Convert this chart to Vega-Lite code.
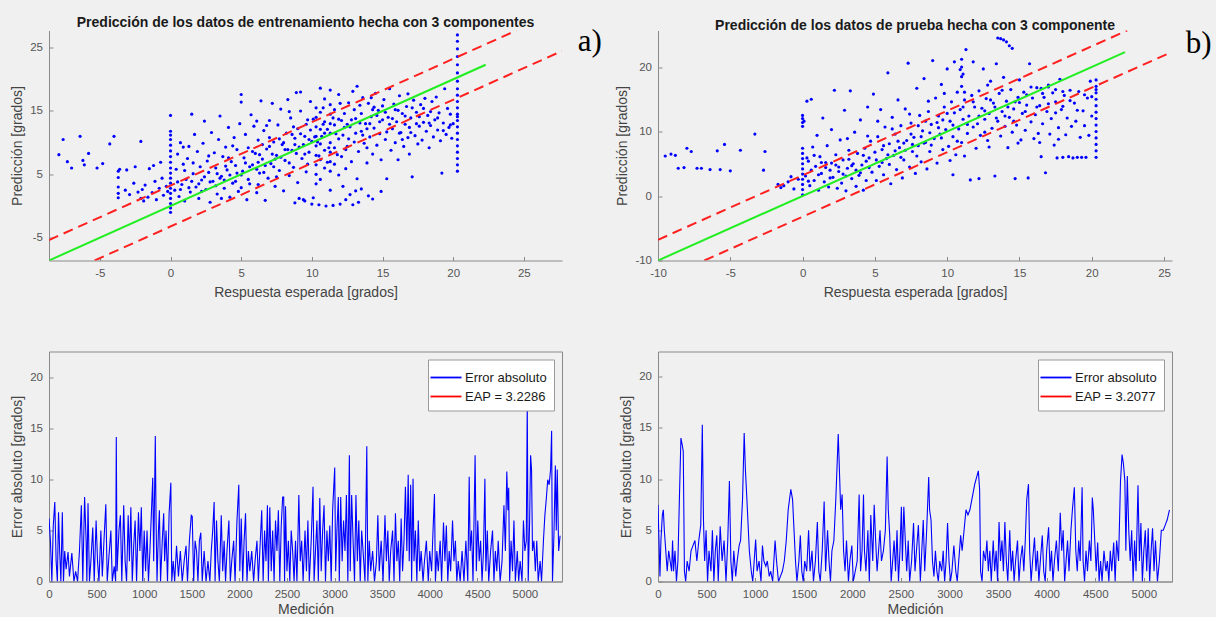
{
"$schema":"https://vega.github.io/schema/vega-lite/v6.json",
"background":"#f0f0f0",
"padding":{"left":10,"top":15.5,"right":4,"bottom":0},
"config":{
 "font":"Liberation Sans",
 "view":{"stroke":null},
 "axis":{"labelFont":"Liberation Sans","labelFontSize":11.5,"labelColor":"#555555","titleFont":"Liberation Sans","titleFontSize":14,"titleFontWeight":"normal","titleColor":"#444444","domainColor":"#8a8a8a","tickColor":"#8a8a8a","tickSize":-4,"grid":false,"labelFlush":false,"labelOverlap":false,"labelExpr":"replace(datum.label, '−', '-')"},
 "axisX":{"labelPadding":11,"titlePadding":6},
 "axisY":{"labelPadding":10.5,"titlePadding":5},
 "title":{"font":"Liberation Sans","fontSize":14,"fontWeight":"bold","color":"#1a1a1a","offset":-4.5,"anchor":"middle"},
 "legend":{"orient":"top-right","offset":8,"fillColor":"#ffffff","strokeColor":"#9a9a9a","padding":7,"symbolType":"M-1.55,0H1.55","symbolSize":400,"symbolStrokeWidth":1.8,"labelFont":"Liberation Sans","labelFontSize":13,"labelColor":"#1a1a1a","rowPadding":1,"labelOffset":8}
},
"datasets":{
"scA":[
{"x":-7.9,"y":8.1},{"x":-7.6,"y":10.5},{"x":-7.3,"y":7},{"x":-7,"y":6},{"x":-6.4,"y":11},{"x":-6.2,"y":7.2},{"x":-6.1,"y":6.5},{"x":-5.8,"y":8.3},{"x":-5.2,"y":6},{"x":-4.8,"y":6.7},{"x":-4.3,"y":9.8},{"x":-4,"y":11},{"x":-2.1,"y":10.2},
{"x":-3.7,"y":1.3},{"x":-3.7,"y":2},{"x":-3.7,"y":3},{"x":-3.7,"y":4.5},{"x":-3.7,"y":5.5},{"x":-3.6,"y":5.8},
{"x":-3.2,"y":2.5},{"x":-2.9,"y":1.8},{"x":-2.6,"y":3.6},{"x":-2.3,"y":2.2},{"x":-2.1,"y":1.2},{"x":-2,"y":2.6},{"x":-1.8,"y":3.3},{"x":-1.6,"y":1.4},{"x":-1.5,"y":5.9},{"x":-1.3,"y":2.1},{"x":-1.1,"y":3.9},{"x":-1,"y":1},{"x":-0.8,"y":2.8},{"x":-0.7,"y":6.9},{"x":-0.6,"y":4.4},{"x":-0.5,"y":1.7},{"x":-0.3,"y":3.1},{"x":-0.2,"y":2.3},{"x":-1.9,"y":0.8},{"x":-2.5,"y":6.2},{"x":-3.1,"y":5.7},{"x":-1.2,"y":6.4},
{"x":0,"y":-1},{"x":0,"y":-0.3},{"x":0,"y":0.4},{"x":0,"y":1.2},{"x":0,"y":2},{"x":0,"y":2.8},{"x":0,"y":3.6},{"x":0,"y":4.4},{"x":0,"y":5.2},{"x":0,"y":6},{"x":0,"y":6.9},{"x":0,"y":7.8},{"x":0,"y":8.7},{"x":0,"y":9.6},{"x":0,"y":10.5},{"x":0,"y":11.2},{"x":0,"y":11.8},{"x":0,"y":14.3},
{"x":0.3,"y":2.5},{"x":0.4,"y":5.8},{"x":0.5,"y":8.2},{"x":0.6,"y":1.5},{"x":0.7,"y":10},{"x":0.8,"y":3.4},{"x":0.9,"y":6.6},{"x":1,"y":0.8},{"x":1.1,"y":4.2},{"x":1.2,"y":7.5},{"x":1.3,"y":9.4},{"x":1.4,"y":2.2},{"x":1.5,"y":14.5},{"x":1.6,"y":5.1},{"x":1.7,"y":11.3},{"x":1.8,"y":3},{"x":1.9,"y":8.6},{"x":2,"y":1.2},{"x":2.1,"y":6.2},{"x":2.2,"y":4.1},{"x":2.3,"y":9.9},{"x":2.4,"y":13.4},{"x":2.5,"y":2.6},{"x":2.6,"y":7.1},{"x":2.7,"y":5.3},{"x":2.8,"y":0.6},{"x":2.9,"y":11.6},{"x":3,"y":3.9},{"x":3.1,"y":8.4},{"x":3.2,"y":6},{"x":3.3,"y":1.9},{"x":3.4,"y":10.5},{"x":3.5,"y":14.2},{"x":3.6,"y":4.7},{"x":3.7,"y":7.8},{"x":3.8,"y":2.8},{"x":3.9,"y":9.3},{"x":4,"y":5.7},{"x":4.1,"y":12.4},{"x":4.2,"y":1.4},{"x":4.3,"y":7},{"x":4.4,"y":3.6},{"x":4.5,"y":10.8},{"x":4.6,"y":6.4},{"x":4.7,"y":8.9},{"x":4.8,"y":2.3},{"x":4.9,"y":13},{"x":5,"y":17.6},{"x":5,"y":16.4},{"x":5,"y":4.9},{"x":0.9,"y":9.3},{"x":1.6,"y":6.8},{"x":2.4,"y":4.6},{"x":3.2,"y":3.2},{"x":3.9,"y":6.3},{"x":4.4,"y":9.5},
{"x":5.2,"y":7.6},{"x":5.3,"y":11.3},{"x":5.4,"y":1},{"x":5.5,"y":9.2},{"x":5.6,"y":3.5},{"x":5.7,"y":14.4},{"x":5.8,"y":6.5},{"x":5.9,"y":12.6},{"x":6,"y":8.3},{"x":6.1,"y":2.1},{"x":6.2,"y":10.4},{"x":6.3,"y":5.2},{"x":6.4,"y":16.6},{"x":6.5,"y":7.4},{"x":6.6,"y":11.9},{"x":6.7,"y":0.9},{"x":6.8,"y":9},{"x":6.9,"y":4.4},{"x":7,"y":13.5},{"x":7.1,"y":6.7},{"x":7.2,"y":16.2},{"x":7.3,"y":10.1},{"x":7.4,"y":3.1},{"x":7.5,"y":8},{"x":7.6,"y":12.8},{"x":7.7,"y":5.6},{"x":7.8,"y":15.3},{"x":7.9,"y":9.7},{"x":8,"y":2.4},{"x":8.1,"y":7.2},{"x":8.2,"y":11.5},{"x":8.3,"y":16.8},{"x":8.4,"y":4.8},{"x":8.5,"y":13.9},{"x":8.6,"y":8.8},{"x":8.7,"y":6.1},{"x":8.8,"y":10.7},{"x":8.9,"y":17.9},{"x":9,"y":3.7},{"x":9,"y":12.2},{"x":9.1,"y":9.3},{"x":9.2,"y":15},{"x":9.3,"y":7.5},{"x":9.4,"y":1},{"x":9.5,"y":11},{"x":9.6,"y":5.4},{"x":9.7,"y":13.6},{"x":9.8,"y":8.5},{"x":9.9,"y":16.5},{"x":10,"y":0.3},{"x":10,"y":10.2},{"x":9.2,"y":18},{"x":6.1,"y":5.8},{"x":7.4,"y":7.4},{"x":8.6,"y":11.3},{"x":5.5,"y":4.2},{"x":6.8,"y":12.7},
{"x":10.3,"y":3.5},{"x":10.3,"y":5},{"x":10.3,"y":6.5},{"x":10.3,"y":8},{"x":10.3,"y":9.5},{"x":10.3,"y":11},{"x":10.3,"y":12.5},{"x":10.3,"y":14},{"x":10.3,"y":15.5},{"x":10.6,"y":4.2},{"x":10.6,"y":7.3},{"x":10.6,"y":9.8},{"x":10.6,"y":12.1},{"x":10.6,"y":14.8},{"x":10.6,"y":18.6},{"x":10.9,"y":6},{"x":10.9,"y":8.8},{"x":10.9,"y":11.5},{"x":10.9,"y":13.3},{"x":10.9,"y":16.9},{"x":11.3,"y":2.5},{"x":11.3,"y":5.5},{"x":11.3,"y":7},{"x":11.3,"y":8.5},{"x":11.3,"y":10},{"x":11.3,"y":11.5},{"x":11.3,"y":13},{"x":11.3,"y":14.5},{"x":11.3,"y":16},{"x":11.3,"y":18.3},{"x":11.6,"y":6.6},{"x":11.6,"y":9.2},{"x":11.6,"y":12.8},{"x":11.6,"y":15.2},{"x":11.9,"y":4.9},{"x":11.9,"y":10.6},{"x":11.9,"y":13.7},{"x":11.9,"y":17.6},{"x":10.1,"y":1.3},{"x":10.5,"y":0.2},{"x":11,"y":0},{"x":11.5,"y":0.1},{"x":12,"y":0.3},{"x":12.4,"y":1},{"x":12.7,"y":1.8},{"x":13.1,"y":2.4},{"x":13.5,"y":2.7},{"x":14,"y":1.6},{"x":14.3,"y":1.1},{"x":9.5,"y":0.8},{"x":9.1,"y":1.2},{"x":8.8,"y":0.5},{"x":13.3,"y":0.6},{"x":12.9,"y":0.2},
{"x":12.1,"y":7.8},{"x":12.2,"y":11.2},{"x":12.3,"y":14.6},{"x":12.4,"y":5.9},{"x":12.5,"y":9.4},{"x":12.6,"y":16.3},{"x":12.7,"y":12.5},{"x":12.8,"y":7},{"x":12.9,"y":18.1},{"x":13,"y":10.1},{"x":13.1,"y":13.8},{"x":13.2,"y":4.3},{"x":13.3,"y":8.6},{"x":13.4,"y":15.9},{"x":13.5,"y":11.8},{"x":13.6,"y":17.1},{"x":13.7,"y":9.9},{"x":13.8,"y":13},{"x":13.9,"y":6.8},{"x":14,"y":16.2},{"x":14.1,"y":10.9},{"x":14.2,"y":14.1},{"x":14.3,"y":8.2},{"x":14.4,"y":12.3},{"x":14.5,"y":17.8},{"x":14.6,"y":9.6},{"x":14.7,"y":15.1},{"x":14.8,"y":11.4},{"x":14.9,"y":7.3},{"x":15,"y":13.6},{"x":12.5,"y":12.9},{"x":13,"y":15.2},{"x":13.6,"y":11.2},{"x":14.1,"y":13},{"x":14.6,"y":14.3},{"x":13.2,"y":18.9},{"x":14.9,"y":2.3},{"x":12.2,"y":3.1},
{"x":15.1,"y":16.8},{"x":15.2,"y":10.5},{"x":15.3,"y":4.3},{"x":15.4,"y":14},{"x":15.5,"y":18.5},{"x":15.6,"y":8.8},{"x":15.7,"y":12.2},{"x":15.8,"y":16.1},{"x":15.9,"y":10},{"x":16,"y":13.3},{"x":16.1,"y":7.3},{"x":16.2,"y":17.4},{"x":16.3,"y":11.6},{"x":16.4,"y":14.6},{"x":16.5,"y":9.4},{"x":16.6,"y":12.9},{"x":16.7,"y":15.7},{"x":16.8,"y":10.8},{"x":16.9,"y":8.2},{"x":17,"y":13.9},{"x":17.1,"y":4.6},{"x":17.2,"y":16.7},{"x":17.3,"y":11.1},{"x":17.4,"y":14.8},{"x":17.5,"y":9.8},{"x":17.6,"y":12.6},{"x":17.7,"y":16},{"x":17.8,"y":10.4},{"x":17.9,"y":13.2},{"x":18,"y":17},{"x":18.1,"y":11.8},{"x":18.2,"y":14.3},{"x":18.3,"y":9.2},{"x":18.4,"y":12.7},{"x":18.5,"y":16.5},{"x":18.6,"y":10.9},{"x":18.7,"y":13.6},{"x":18.8,"y":17.2},{"x":18.9,"y":12},{"x":19,"y":14.7},{"x":19.1,"y":10.3},{"x":19.2,"y":5.2},{"x":19.3,"y":13.1},{"x":19.4,"y":18.5},{"x":19.5,"y":11.3},{"x":19.6,"y":15.4},{"x":19.7,"y":12.4},{"x":19.8,"y":14.5},{"x":19.9,"y":10.7},{"x":20,"y":13},{"x":15.5,"y":12.9},{"x":16.2,"y":11.5},{"x":16.9,"y":12.4},{"x":17.6,"y":14.1},{"x":18.3,"y":13.1},
{"x":20.3,"y":5.5},{"x":20.3,"y":6.5},{"x":20.3,"y":7.5},{"x":20.3,"y":8.5},{"x":20.3,"y":9.5},{"x":20.3,"y":10.5},{"x":20.3,"y":11.5},{"x":20.3,"y":12.5},{"x":20.3,"y":13.5},{"x":20.3,"y":14.5},{"x":20.3,"y":15.5},{"x":20.3,"y":16.5},{"x":20.3,"y":17.5},{"x":20.3,"y":18.5},{"x":20.3,"y":19.7},{"x":20.3,"y":21},{"x":20.3,"y":22.3},{"x":20.3,"y":23.6},{"x":20.3,"y":24.8},{"x":20.3,"y":26},{"x":20.3,"y":27},
{"x":5.1,"y":5.5},{"x":5.6,"y":6.2},{"x":6.2,"y":6.9},{"x":6.7,"y":6.4},{"x":7.2,"y":8.2},{"x":7.8,"y":7.7},{"x":8.3,"y":8.9},{"x":8.9,"y":8.3},{"x":9.4,"y":9.7},{"x":9.8,"y":10.5},{"x":10.2,"y":10.9},{"x":10.7,"y":11},{"x":11.1,"y":12.1},{"x":11.7,"y":11.4},{"x":12.3,"y":12.4},{"x":3.5,"y":4.4},{"x":4.2,"y":4.9},{"x":4.7,"y":5.2},{"x":2.8,"y":3.8},{"x":2,"y":3.5},{"x":1.3,"y":2.9},{"x":0.7,"y":2.6},{"x":6.5,"y":9.7},{"x":7,"y":10.8},{"x":8,"y":10},{"x":8.7,"y":12.5},{"x":9.6,"y":12.9},{"x":10.1,"y":13.7},{"x":12.8,"y":13.6},{"x":13.4,"y":13.1},{"x":14.4,"y":15.6},{"x":15,"y":15.8},{"x":15.9,"y":15.2},{"x":17.1,"y":15.5},
{"x":0.5,"y":3.8},{"x":1,"y":5.6},{"x":1.5,"y":3.9},{"x":2.2,"y":2.3},{"x":2.7,"y":7.9},{"x":3.3,"y":5.1},{"x":3.8,"y":4.1},{"x":4.1,"y":7.6},{"x":4.6,"y":3.9},{"x":5.3,"y":6.8},{"x":5.8,"y":8.6},{"x":6.3,"y":8.1},{"x":6.6,"y":5.3},{"x":7,"y":9.4},{"x":7.3,"y":6.2},{"x":7.7,"y":10.6},{"x":8.1,"y":8.9},{"x":8.4,"y":6.8},{"x":8.8,"y":9.7},{"x":9.2,"y":11.4},{"x":9.5,"y":8.2},{"x":9.9,"y":12},{"x":10.4,"y":10.1},{"x":10.8,"y":12.9},{"x":11.2,"y":9.2},{"x":11.5,"y":13.9},{"x":11.8,"y":8.1},{"x":12.1,"y":13.5},{"x":12.6,"y":10.6},{"x":13.1,"y":11.5},{"x":13.5,"y":14.6},{"x":13.9,"y":12.2},{"x":14.3,"y":15.2},{"x":14.8,"y":13.3},{"x":15.2,"y":14.8},{"x":15.7,"y":13.8},{"x":16.1,"y":15.1},{"x":16.6,"y":14.2},{"x":17,"y":11.6},{"x":17.4,"y":13},{"x":17.9,"y":15.4},{"x":18.4,"y":14.9},{"x":18.9,"y":13.9},{"x":19.3,"y":11.9},{"x":19.8,"y":12.8},{"x":20.3,"y":14.1},{"x":9.7,"y":6.6},{"x":10.5,"y":7.9},{"x":11.1,"y":6.9},{"x":12.4,"y":8.9},{"x":13.9,"y":9.2},{"x":15.3,"y":11.7},{"x":16.4,"y":10.5},{"x":7.5,"y":4.6},{"x":6.2,"y":3.4},{"x":5,"y":2.9},{"x":3.6,"y":1.2},{"x":10.8,"y":15.5},{"x":12,"y":16.2},{"x":14.2,"y":17.1},{"x":16.8,"y":17.7},{"x":8.4,"y":14.9},{"x":6.1,"y":13.4}
],
"scB":[
{"x":-9.5,"y":6.2},{"x":-9.1,"y":6.5},{"x":-8.8,"y":6.3},{"x":-8.6,"y":4.3},{"x":-8.2,"y":4.4},{"x":-8,"y":7.4},{"x":-7.7,"y":6.9},{"x":-7.3,"y":4.3},{"x":-7,"y":4.3},{"x":-6.4,"y":4.1},{"x":-5.9,"y":7},{"x":-5.7,"y":4.1},{"x":-5.4,"y":8},{"x":-5,"y":3.9},{"x":-4.3,"y":7.1},{"x":-3.3,"y":9.6},{"x":-2.6,"y":6.9},{"x":-2.7,"y":4},{"x":-1.7,"y":1.8},{"x":-1.5,"y":1.3},{"x":-1.3,"y":1.6},{"x":-1,"y":2.2},{"x":-0.8,"y":3},{"x":-0.6,"y":1.1},{"x":-0.3,"y":2.6},
{"x":0,"y":0.2},{"x":0,"y":1},{"x":0,"y":1.8},{"x":0,"y":2.6},{"x":0,"y":3.4},{"x":0,"y":4.2},{"x":0,"y":5},{"x":0,"y":5.8},{"x":0,"y":6.6},{"x":0,"y":7.4},{"x":0,"y":10.8},{"x":0,"y":11.4},{"x":0,"y":12},{"x":0,"y":12.5},{"x":0.1,"y":11.6},
{"x":0.2,"y":3.1},{"x":0.3,"y":14.7},{"x":0.4,"y":5.4},{"x":0.5,"y":1.6},{"x":0.6,"y":15},{"x":0.7,"y":7.6},{"x":0.8,"y":2.4},{"x":0.9,"y":4.6},{"x":1,"y":9.4},{"x":1.1,"y":0.9},{"x":1.2,"y":6.1},{"x":1.3,"y":3.5},{"x":1.4,"y":12.1},{"x":1.5,"y":2.2},{"x":1.6,"y":5.2},{"x":1.7,"y":7.8},{"x":1.8,"y":1.4},{"x":1.9,"y":4},{"x":2,"y":10.3},{"x":2.1,"y":2.9},{"x":2.2,"y":16.4},{"x":2.3,"y":6.4},{"x":2.4,"y":1.2},{"x":2.5,"y":3.8},{"x":2.6,"y":8.7},{"x":2.7,"y":2},{"x":2.8,"y":5.6},{"x":2.9,"y":13.3},{"x":3,"y":0.8},{"x":3.1,"y":4.3},{"x":3.2,"y":7.1},{"x":3.3,"y":16.3},{"x":3.4,"y":2.7},{"x":3.5,"y":5},{"x":3.6,"y":9.9},{"x":3.7,"y":1.5},{"x":3.8,"y":6.6},{"x":3.9,"y":3.2},{"x":4,"y":11.8},{"x":4.1,"y":4.8},{"x":4.2,"y":0.9},{"x":4.3,"y":7.4},{"x":4.4,"y":2.4},{"x":4.5,"y":13.8},{"x":4.6,"y":5.9},{"x":4.7,"y":8.5},{"x":4.8,"y":3.7},{"x":4.9,"y":15.8},{"x":5,"y":6.8},{"x":1.1,"y":3.3},{"x":1.6,"y":4.4},{"x":2,"y":5.1},{"x":2.5,"y":4.5},{"x":3,"y":3.1},{"x":3.4,"y":4.7},{"x":4,"y":3.6},{"x":4.4,"y":5.4},{"x":0.6,"y":4},{"x":0.4,"y":2.3},
{"x":5.1,"y":2.4},{"x":5.2,"y":9.2},{"x":5.3,"y":4.6},{"x":5.4,"y":13.4},{"x":5.5,"y":7.2},{"x":5.6,"y":3.3},{"x":5.7,"y":10.7},{"x":5.8,"y":5.8},{"x":5.9,"y":19.1},{"x":6,"y":8.1},{"x":6.1,"y":1.9},{"x":6.2,"y":12.2},{"x":6.3,"y":6.3},{"x":6.4,"y":9.6},{"x":6.5,"y":4.1},{"x":6.6,"y":14.9},{"x":6.7,"y":7.5},{"x":6.8,"y":10.9},{"x":6.9,"y":2.8},{"x":7,"y":5.6},{"x":7.1,"y":13.5},{"x":7.2,"y":8.6},{"x":7.3,"y":20.6},{"x":7.4,"y":4.5},{"x":7.5,"y":11.3},{"x":7.6,"y":6.9},{"x":7.7,"y":9.1},{"x":7.8,"y":3.5},{"x":7.9,"y":16.7},{"x":8,"y":7.8},{"x":8.1,"y":12.5},{"x":8.2,"y":5.3},{"x":8.3,"y":10.1},{"x":8.4,"y":18.2},{"x":8.5,"y":8.3},{"x":8.6,"y":4.2},{"x":8.7,"y":13.1},{"x":8.8,"y":6.9},{"x":8.9,"y":11.1},{"x":9,"y":21},{"x":9.1,"y":8.9},{"x":9.2,"y":15.2},{"x":9.3,"y":5.1},{"x":9.4,"y":12.4},{"x":9.5,"y":9.6},{"x":9.6,"y":17.3},{"x":9.7,"y":7.2},{"x":9.8,"y":13.8},{"x":9.9,"y":10.3},{"x":10,"y":19.7},{"x":5.9,"y":6.4},{"x":6.4,"y":7},{"x":7,"y":8.2},{"x":7.6,"y":8},{"x":8.2,"y":9.2},{"x":8.8,"y":9.8},{"x":9.4,"y":10.6},{"x":6.8,"y":6},{"x":7.9,"y":6.2},{"x":5.5,"y":5.2},{"x":8.5,"y":11.6},{"x":9.7,"y":11.8},
{"x":10.1,"y":7.7},{"x":10.2,"y":11.6},{"x":10.3,"y":14.6},{"x":10.4,"y":9.2},{"x":10.5,"y":12.9},{"x":10.6,"y":6.4},{"x":10.7,"y":16.1},{"x":10.8,"y":10.4},{"x":10.9,"y":13.4},{"x":11,"y":8.3},{"x":11,"y":17},{"x":11,"y":18.5},{"x":11,"y":20},{"x":11,"y":21.2},{"x":11.1,"y":11.9},{"x":11.2,"y":14.9},{"x":11.3,"y":22.7},{"x":11.4,"y":9.7},{"x":11.5,"y":12.4},{"x":11.6,"y":2.5},{"x":11.7,"y":15.6},{"x":11.8,"y":10.7},{"x":11.9,"y":13.8},{"x":12,"y":7.4},{"x":10.4,"y":3.3},{"x":11.2,"y":6.2},{"x":11.8,"y":20.8},{"x":10.5,"y":20.8},{"x":12.2,"y":2.7},
{"x":12.1,"y":11.2},{"x":12.2,"y":16.3},{"x":12.3,"y":9.4},{"x":12.4,"y":13.6},{"x":12.5,"y":19.7},{"x":12.6,"y":11.9},{"x":12.7,"y":15.1},{"x":12.8,"y":8.6},{"x":12.9,"y":12.8},{"x":13,"y":17.8},{"x":13.1,"y":10.5},{"x":13.2,"y":14.4},{"x":13.3,"y":3.1},{"x":13.4,"y":20.5},{"x":13.5,"y":24.5},{"x":13.7,"y":24.4},{"x":13.9,"y":24.2},{"x":14.1,"y":23.9},{"x":14.3,"y":23.3},{"x":14.5,"y":22.9},{"x":13.5,"y":11.6},{"x":13.6,"y":15.9},{"x":13.7,"y":9.3},{"x":13.8,"y":13.1},{"x":13.9,"y":18.4},{"x":14,"y":10.8},{"x":14.1,"y":14.7},{"x":14.2,"y":7.5},{"x":14.3,"y":12.2},{"x":14.4,"y":16.5},{"x":14.5,"y":9.9},{"x":14.6,"y":13.5},{"x":14.7,"y":2.7},{"x":14.8,"y":11},{"x":14.9,"y":15.3},{"x":15,"y":18},{"x":15.1,"y":8.7},{"x":15.2,"y":12.8},{"x":15.3,"y":16.1},{"x":15.4,"y":10.2},{"x":15.5,"y":14.1},{"x":15.6,"y":2.8},{"x":15.7,"y":20.5},{"x":15.8,"y":11.5},{"x":15.9,"y":15.2},{"x":16,"y":8.9},{"x":12.6,"y":13.2},{"x":13.3,"y":13.8},{"x":14,"y":12.4},{"x":14.7,"y":14.6},{"x":15.5,"y":15.7},
{"x":16.1,"y":12.6},{"x":16.2,"y":16.8},{"x":16.3,"y":9.7},{"x":16.4,"y":14},{"x":16.5,"y":6.1},{"x":16.6,"y":11.2},{"x":16.7,"y":15.3},{"x":16.8,"y":3.6},{"x":16.9,"y":13.1},{"x":17,"y":17.2},{"x":17.1,"y":9.6},{"x":17.2,"y":12},{"x":17.3,"y":16},{"x":17.4,"y":7.9},{"x":17.5,"y":14.6},{"x":17.6,"y":5.9},{"x":17.7,"y":10.6},{"x":17.8,"y":18.1},{"x":17.9,"y":13.4},{"x":18,"y":6},{"x":18.1,"y":15.6},{"x":18.2,"y":9.5},{"x":18.3,"y":12.1},{"x":18.4,"y":6.1},{"x":18.5,"y":16.4},{"x":18.6,"y":10.8},{"x":18.7,"y":5.9},{"x":18.8,"y":14.4},{"x":18.9,"y":11.6},{"x":19,"y":6},{"x":19.1,"y":16.2},{"x":19.2,"y":9.1},{"x":19.3,"y":6},{"x":19.4,"y":13.2},{"x":19.5,"y":10.9},{"x":19.6,"y":6},{"x":19.7,"y":15.2},{"x":19.8,"y":9.4},{"x":19.9,"y":17.8},{"x":20,"y":12.4},{"x":17,"y":16.9},{"x":17.5,"y":16.5},{"x":18,"y":16.2},{"x":16.5,"y":16.7},
{"x":20.3,"y":6},{"x":20.3,"y":7},{"x":20.3,"y":8},{"x":20.3,"y":9},{"x":20.3,"y":10},{"x":20.3,"y":11},{"x":20.3,"y":12},{"x":20.3,"y":13},{"x":20.3,"y":14},{"x":20.3,"y":15},{"x":20.3,"y":16},{"x":20.3,"y":17},{"x":20.3,"y":18},
{"x":0.3,"y":5.9},{"x":0.8,"y":6.3},{"x":1.3,"y":5.2},{"x":1.9,"y":2.8},{"x":2.3,"y":4.8},{"x":2.8,"y":3.4},{"x":3.2,"y":5.7},{"x":3.7,"y":4},{"x":4.2,"y":6.3},{"x":4.6,"y":4.4},{"x":5.1,"y":5.6},{"x":5.6,"y":7.8},{"x":6,"y":4.9},{"x":6.6,"y":8.5},{"x":7.1,"y":7.1},{"x":7.5,"y":9.6},{"x":8,"y":10.9},{"x":8.4,"y":8.2},{"x":8.9,"y":7.9},{"x":9.3,"y":11.4},{"x":9.6,"y":9},{"x":10,"y":12.8},{"x":10.4,"y":11},{"x":10.7,"y":8.5},{"x":11.1,"y":13.8},{"x":11.4,"y":11.1},{"x":11.8,"y":14.6},{"x":12.2,"y":12.4},{"x":12.6,"y":9.9},{"x":13,"y":14.9},{"x":13.4,"y":12.1},{"x":13.8,"y":16.4},{"x":14.2,"y":13.8},{"x":14.6,"y":11.6},{"x":15,"y":14.5},{"x":15.4,"y":13.1},{"x":15.8,"y":16.9},{"x":16.2,"y":13.8},{"x":16.6,"y":15.9},{"x":17,"y":14.3},{"x":17.5,"y":12.9},{"x":18,"y":13.9},{"x":18.5,"y":14.8},{"x":19,"y":13.3},{"x":19.5,"y":15.7},{"x":20,"y":15.4},{"x":20.3,"y":16.5},{"x":11.2,"y":16.1},{"x":11.1,"y":18.9},{"x":10.9,"y":19.6},{"x":12.8,"y":17.2},{"x":9.8,"y":15.9},{"x":8.7,"y":14.7},{"x":7.4,"y":12.7},{"x":6.2,"y":10.4},{"x":5.2,"y":11.6},{"x":4.5,"y":9.3},{"x":3.1,"y":8.9},{"x":10.2,"y":5.5},{"x":12.9,"y":7.6},{"x":14.9,"y":8.2},{"x":16.4,"y":8.3},{"x":17.7,"y":8.8}
],
"fitA":[{"x":-8.6,"y":-8.6},{"x":22.3,"y":22.3}],
"bandA":[{"s":"up","x":-8.6,"y":-5.37},{"s":"up","x":24.47,"y":27.7},{"s":"lo","x":-5.37,"y":-8.6},{"s":"lo","x":27.7,"y":24.47}],
"fitB":[{"x":-10,"y":-10},{"x":22.3,"y":22.3}],
"bandB":[{"s":"up","x":-10,"y":-6.79},{"s":"up","x":22.45,"y":25.66},{"s":"lo","x":-6.79,"y":-10},{"s":"lo","x":25.55,"y":22.34}],
"erA":[
{"x":0,"y":6.2},{"x":15,"y":4},{"x":30,"y":0},{"x":45,"y":5.5},{"x":61,"y":7.8},{"x":75,"y":2},{"x":88,"y":0},{"x":100,"y":6.8},{"x":112,"y":3},{"x":125,"y":0},{"x":140,"y":6.8},{"x":152,"y":0},{"x":165,"y":3},{"x":180,"y":1.2},{"x":200,"y":2.9},{"x":215,"y":0.5},{"x":240,"y":2.8},{"x":262,"y":0},{"x":280,"y":1},{"x":300,"y":0},{"x":320,"y":3},{"x":340,"y":7.5},{"x":355,"y":0},{"x":374,"y":8.3},{"x":390,"y":4},{"x":398,"y":0},{"x":410,"y":7.7},{"x":425,"y":0},{"x":440,"y":2},{"x":460,"y":5.3},{"x":475,"y":0},{"x":495,"y":6},{"x":510,"y":2},{"x":525,"y":0},{"x":545,"y":5},{"x":560,"y":0.5},{"x":580,"y":4.5},{"x":597,"y":7.6},{"x":612,"y":0},{"x":630,"y":2.5},{"x":650,"y":5},{"x":665,"y":0},{"x":685,"y":1.5},{"x":700,"y":0},{"x":707,"y":14.2},{"x":715,"y":1},{"x":735,"y":5},{"x":750,"y":6.5},{"x":765,"y":0},{"x":785,"y":7.5},{"x":800,"y":2},{"x":815,"y":0},{"x":832,"y":6.5},{"x":845,"y":2},{"x":860,"y":7.3},{"x":875,"y":0},{"x":890,"y":3.5},{"x":905,"y":6},{"x":920,"y":0},{"x":940,"y":6.8},{"x":955,"y":3},{"x":970,"y":7.3},{"x":985,"y":0},{"x":1000,"y":5},{"x":1015,"y":1},{"x":1030,"y":5},{"x":1045,"y":0},{"x":1060,"y":3},{"x":1075,"y":6.5},{"x":1090,"y":10.2},{"x":1100,"y":2},{"x":1117,"y":14.3},{"x":1125,"y":6},{"x":1135,"y":0},{"x":1150,"y":5},{"x":1160,"y":7},{"x":1172,"y":0},{"x":1190,"y":4},{"x":1205,"y":6.7},{"x":1215,"y":2},{"x":1230,"y":5},{"x":1245,"y":0},{"x":1262,"y":6.7},{"x":1280,"y":9.7},{"x":1290,"y":0},{"x":1305,"y":2},{"x":1320,"y":0},{"x":1340,"y":3.5},{"x":1360,"y":0.5},{"x":1380,"y":3},{"x":1400,"y":0},{"x":1420,"y":2},{"x":1440,"y":3.5},{"x":1455,"y":0},{"x":1475,"y":4},{"x":1495,"y":6.5},{"x":1505,"y":6.4},{"x":1520,"y":0},{"x":1535,"y":4},{"x":1550,"y":3},{"x":1565,"y":0},{"x":1580,"y":4},{"x":1595,"y":4.8},{"x":1610,"y":0},{"x":1630,"y":3},{"x":1650,"y":0},{"x":1670,"y":2},{"x":1690,"y":0},{"x":1705,"y":3},{"x":1720,"y":5},{"x":1735,"y":7.8},{"x":1745,"y":0},{"x":1760,"y":6},{"x":1775,"y":2},{"x":1790,"y":0},{"x":1810,"y":6.5},{"x":1825,"y":1},{"x":1840,"y":4},{"x":1855,"y":0},{"x":1870,"y":3},{"x":1890,"y":6},{"x":1905,"y":0},{"x":1920,"y":2},{"x":1940,"y":4},{"x":1955,"y":0},{"x":1975,"y":6},{"x":1994,"y":9.5},{"x":2005,"y":1},{"x":2020,"y":6.2},{"x":2035,"y":0},{"x":2050,"y":4},{"x":2065,"y":6.7},{"x":2080,"y":0},{"x":2095,"y":3},{"x":2110,"y":1},{"x":2130,"y":3},{"x":2150,"y":0},{"x":2165,"y":2},{"x":2185,"y":4},{"x":2200,"y":0},{"x":2215,"y":3},{"x":2235,"y":7},{"x":2250,"y":0},{"x":2265,"y":5},{"x":2280,"y":2},{"x":2295,"y":7.5},{"x":2305,"y":0},{"x":2320,"y":7.3},{"x":2335,"y":1},{"x":2350,"y":5},{"x":2365,"y":0},{"x":2380,"y":6},{"x":2395,"y":3},{"x":2410,"y":7},{"x":2425,"y":0},{"x":2440,"y":5.5},{"x":2455,"y":8.3},{"x":2466,"y":8.3},{"x":2475,"y":0},{"x":2485,"y":7.4},{"x":2500,"y":1},{"x":2515,"y":4},{"x":2530,"y":0},{"x":2545,"y":5},{"x":2560,"y":3},{"x":2575,"y":0},{"x":2590,"y":4},{"x":2605,"y":0},{"x":2625,"y":8.5},{"x":2640,"y":2},{"x":2655,"y":4},{"x":2670,"y":0},{"x":2690,"y":5},{"x":2705,"y":1},{"x":2720,"y":6},{"x":2735,"y":0},{"x":2755,"y":4},{"x":2774,"y":9.3},{"x":2785,"y":0},{"x":2800,"y":3},{"x":2815,"y":6},{"x":2830,"y":0},{"x":2845,"y":8.2},{"x":2860,"y":1},{"x":2875,"y":5},{"x":2890,"y":7.5},{"x":2905,"y":0},{"x":2920,"y":5},{"x":2935,"y":2},{"x":2950,"y":5.5},{"x":2965,"y":0},{"x":2980,"y":7},{"x":3002,"y":11.2},{"x":3012,"y":1},{"x":3025,"y":5},{"x":3040,"y":8.3},{"x":3050,"y":0},{"x":3065,"y":8.3},{"x":3080,"y":2},{"x":3095,"y":6},{"x":3110,"y":3},{"x":3125,"y":8.5},{"x":3140,"y":0},{"x":3156,"y":12.4},{"x":3165,"y":1},{"x":3180,"y":8.5},{"x":3195,"y":4},{"x":3210,"y":0},{"x":3225,"y":8.5},{"x":3240,"y":2},{"x":3255,"y":6},{"x":3270,"y":0},{"x":3285,"y":5},{"x":3300,"y":3},{"x":3320,"y":0},{"x":3339,"y":13.3},{"x":3350,"y":0},{"x":3365,"y":4},{"x":3380,"y":1},{"x":3400,"y":3},{"x":3420,"y":0},{"x":3440,"y":2},{"x":3455,"y":6.5},{"x":3470,"y":1},{"x":3490,"y":4},{"x":3510,"y":0},{"x":3530,"y":6.5},{"x":3545,"y":2},{"x":3560,"y":5},{"x":3575,"y":0},{"x":3590,"y":3},{"x":3610,"y":5},{"x":3625,"y":0},{"x":3640,"y":6.7},{"x":3655,"y":2},{"x":3670,"y":4},{"x":3685,"y":0},{"x":3700,"y":6.2},{"x":3715,"y":1},{"x":3730,"y":4},{"x":3745,"y":9.3},{"x":3760,"y":3},{"x":3774,"y":10.5},{"x":3785,"y":2},{"x":3800,"y":9.5},{"x":3810,"y":0},{"x":3825,"y":10.1},{"x":3835,"y":2},{"x":3850,"y":5},{"x":3865,"y":0},{"x":3880,"y":6},{"x":3895,"y":1},{"x":3910,"y":3},{"x":3930,"y":0},{"x":3945,"y":2},{"x":3965,"y":4},{"x":3985,"y":0},{"x":4000,"y":3},{"x":4020,"y":1},{"x":4035,"y":5},{"x":4050,"y":8.6},{"x":4060,"y":0},{"x":4075,"y":3},{"x":4090,"y":1},{"x":4110,"y":4},{"x":4125,"y":0},{"x":4145,"y":5.8},{"x":4160,"y":2},{"x":4175,"y":5.5},{"x":4190,"y":0},{"x":4205,"y":3},{"x":4220,"y":1},{"x":4240,"y":6},{"x":4255,"y":2},{"x":4270,"y":4},{"x":4285,"y":0},{"x":4300,"y":2},{"x":4320,"y":0},{"x":4340,"y":3},{"x":4360,"y":0},{"x":4380,"y":4},{"x":4400,"y":0},{"x":4415,"y":10.3},{"x":4425,"y":3},{"x":4440,"y":5},{"x":4455,"y":0},{"x":4477,"y":12.4},{"x":4490,"y":1},{"x":4505,"y":6},{"x":4520,"y":2},{"x":4535,"y":4},{"x":4550,"y":0},{"x":4565,"y":3},{"x":4580,"y":10.1},{"x":4590,"y":1},{"x":4605,"y":5},{"x":4620,"y":0},{"x":4640,"y":3},{"x":4660,"y":5},{"x":4675,"y":0},{"x":4690,"y":3},{"x":4705,"y":1},{"x":4720,"y":4},{"x":4740,"y":0},{"x":4760,"y":2},{"x":4780,"y":7.5},{"x":4795,"y":3},{"x":4810,"y":10.8},{"x":4822,"y":7},{"x":4830,"y":9.2},{"x":4840,"y":0},{"x":4855,"y":4},{"x":4870,"y":1},{"x":4885,"y":6},{"x":4900,"y":0},{"x":4920,"y":3},{"x":4935,"y":0},{"x":4950,"y":2},{"x":4970,"y":0},{"x":4985,"y":6},{"x":5000,"y":3},{"x":5015,"y":4},{"x":5025,"y":17.8},{"x":5035,"y":0},{"x":5050,"y":6},{"x":5060,"y":12.4},{"x":5070,"y":11},{"x":5080,"y":3},{"x":5095,"y":4},{"x":5110,"y":1},{"x":5125,"y":4},{"x":5140,"y":0},{"x":5160,"y":2},{"x":5175,"y":0},{"x":5195,"y":4},{"x":5210,"y":6.5},{"x":5225,"y":8.1},{"x":5240,"y":10},{"x":5255,"y":9.5},{"x":5270,"y":11},{"x":5281,"y":14.8},{"x":5290,"y":0},{"x":5305,"y":4.5},{"x":5320,"y":11.4},{"x":5330,"y":5},{"x":5340,"y":11},{"x":5355,"y":3},{"x":5370,"y":4.5}
],
"erB":[
{"x":0,"y":7.5},{"x":10,"y":4},{"x":20,"y":0.5},{"x":30,"y":4},{"x":45,"y":6.5},{"x":55,"y":7},{"x":65,"y":5},{"x":80,"y":3},{"x":95,"y":1},{"x":110,"y":3},{"x":125,"y":2},{"x":140,"y":1},{"x":150,"y":4},{"x":160,"y":1},{"x":175,"y":3},{"x":190,"y":0},{"x":205,"y":2},{"x":220,"y":8},{"x":236,"y":14},{"x":250,"y":13.3},{"x":260,"y":12.7},{"x":272,"y":1},{"x":285,"y":0},{"x":300,"y":2},{"x":320,"y":1},{"x":340,"y":3},{"x":360,"y":3.5},{"x":380,"y":4},{"x":400,"y":2},{"x":420,"y":4},{"x":440,"y":5.5},{"x":456,"y":15.3},{"x":468,"y":6},{"x":480,"y":2},{"x":495,"y":5},{"x":510,"y":0},{"x":525,"y":3},{"x":545,"y":1},{"x":560,"y":5},{"x":575,"y":0},{"x":590,"y":3},{"x":605,"y":4.5},{"x":620,"y":0},{"x":640,"y":5.4},{"x":660,"y":2},{"x":680,"y":4},{"x":700,"y":0},{"x":718,"y":4},{"x":735,"y":9.8},{"x":750,"y":2},{"x":765,"y":0},{"x":780,"y":3},{"x":800,"y":0.5},{"x":815,"y":2},{"x":835,"y":3.5},{"x":850,"y":4},{"x":870,"y":8},{"x":887,"y":14.5},{"x":900,"y":10.8},{"x":915,"y":8},{"x":925,"y":6},{"x":940,"y":3},{"x":960,"y":1},{"x":975,"y":0},{"x":990,"y":2},{"x":1005,"y":4.1},{"x":1020,"y":1},{"x":1040,"y":2},{"x":1060,"y":0},{"x":1075,"y":3.5},{"x":1090,"y":2},{"x":1110,"y":1.5},{"x":1125,"y":2},{"x":1145,"y":0.5},{"x":1160,"y":1},{"x":1180,"y":0},{"x":1205,"y":4},{"x":1220,"y":2},{"x":1240,"y":0},{"x":1260,"y":0.5},{"x":1280,"y":1},{"x":1300,"y":2},{"x":1320,"y":4},{"x":1340,"y":7},{"x":1367,"y":9},{"x":1385,"y":8},{"x":1400,"y":5},{"x":1415,"y":2},{"x":1430,"y":0},{"x":1450,"y":2},{"x":1465,"y":4.5},{"x":1480,"y":1},{"x":1495,"y":0},{"x":1510,"y":2},{"x":1530,"y":1},{"x":1550,"y":5},{"x":1565,"y":1},{"x":1585,"y":3},{"x":1600,"y":0},{"x":1620,"y":2},{"x":1640,"y":5.8},{"x":1655,"y":1},{"x":1670,"y":0},{"x":1690,"y":3},{"x":1710,"y":7.8},{"x":1725,"y":1},{"x":1745,"y":5},{"x":1760,"y":2},{"x":1775,"y":0},{"x":1790,"y":3},{"x":1810,"y":4},{"x":1830,"y":8},{"x":1855,"y":14.4},{"x":1870,"y":10},{"x":1880,"y":7},{"x":1895,"y":8.5},{"x":1910,"y":3},{"x":1925,"y":1},{"x":1940,"y":4},{"x":1960,"y":0},{"x":1975,"y":2},{"x":1995,"y":3.5},{"x":2010,"y":0},{"x":2030,"y":1},{"x":2050,"y":2},{"x":2070,"y":8.5},{"x":2085,"y":1},{"x":2100,"y":3},{"x":2115,"y":8.5},{"x":2125,"y":3},{"x":2140,"y":1},{"x":2160,"y":5},{"x":2175,"y":0},{"x":2190,"y":6.5},{"x":2210,"y":2},{"x":2225,"y":7.5},{"x":2240,"y":4},{"x":2255,"y":1},{"x":2270,"y":3},{"x":2285,"y":5},{"x":2300,"y":2},{"x":2320,"y":3},{"x":2340,"y":5},{"x":2358,"y":12.2},{"x":2370,"y":7},{"x":2385,"y":4.5},{"x":2400,"y":0},{"x":2415,"y":2},{"x":2430,"y":4},{"x":2445,"y":1},{"x":2460,"y":5},{"x":2475,"y":0},{"x":2490,"y":3},{"x":2505,"y":7.3},{"x":2515,"y":2},{"x":2530,"y":7.3},{"x":2545,"y":4},{"x":2560,"y":1},{"x":2575,"y":4},{"x":2590,"y":0},{"x":2610,"y":2},{"x":2630,"y":5.7},{"x":2645,"y":1},{"x":2660,"y":3},{"x":2680,"y":5.5},{"x":2700,"y":0},{"x":2715,"y":3},{"x":2730,"y":6},{"x":2745,"y":1},{"x":2765,"y":5},{"x":2786,"y":10.2},{"x":2795,"y":7},{"x":2810,"y":6},{"x":2825,"y":2},{"x":2840,"y":0.5},{"x":2855,"y":3},{"x":2870,"y":1},{"x":2885,"y":0},{"x":2900,"y":2},{"x":2920,"y":1},{"x":2935,"y":3},{"x":2950,"y":0},{"x":2965,"y":2},{"x":2980,"y":5.7},{"x":2995,"y":2},{"x":3010,"y":0},{"x":3025,"y":1},{"x":3045,"y":3.5},{"x":3065,"y":1},{"x":3080,"y":0},{"x":3095,"y":2},{"x":3115,"y":4.5},{"x":3130,"y":3},{"x":3150,"y":5},{"x":3170,"y":7},{"x":3190,"y":6.5},{"x":3210,"y":7},{"x":3230,"y":8},{"x":3260,"y":9.5},{"x":3297,"y":10.8},{"x":3310,"y":9},{"x":3320,"y":1},{"x":3335,"y":0},{"x":3350,"y":3},{"x":3370,"y":2},{"x":3385,"y":4},{"x":3400,"y":1},{"x":3415,"y":3},{"x":3430,"y":0},{"x":3450,"y":4},{"x":3465,"y":1},{"x":3480,"y":3},{"x":3495,"y":0},{"x":3510,"y":5.8},{"x":3525,"y":2},{"x":3540,"y":4},{"x":3555,"y":1},{"x":3570,"y":5.8},{"x":3585,"y":2},{"x":3600,"y":0},{"x":3620,"y":5},{"x":3635,"y":1},{"x":3650,"y":3},{"x":3665,"y":0},{"x":3680,"y":2},{"x":3700,"y":4},{"x":3715,"y":0},{"x":3730,"y":2},{"x":3750,"y":3.5},{"x":3765,"y":1},{"x":3780,"y":4},{"x":3795,"y":8},{"x":3813,"y":9.5},{"x":3825,"y":3},{"x":3840,"y":0},{"x":3855,"y":2},{"x":3875,"y":4.3},{"x":3890,"y":1},{"x":3905,"y":3},{"x":3920,"y":0},{"x":3935,"y":2},{"x":3955,"y":4.5},{"x":3970,"y":1},{"x":3985,"y":0},{"x":4000,"y":3},{"x":4020,"y":5.3},{"x":4035,"y":1},{"x":4050,"y":3},{"x":4065,"y":0},{"x":4080,"y":2},{"x":4100,"y":4},{"x":4120,"y":1},{"x":4140,"y":6.7},{"x":4155,"y":3},{"x":4170,"y":5},{"x":4185,"y":0},{"x":4200,"y":2},{"x":4215,"y":4},{"x":4230,"y":1},{"x":4250,"y":5},{"x":4265,"y":7},{"x":4285,"y":9.2},{"x":4300,"y":3},{"x":4315,"y":1},{"x":4330,"y":4},{"x":4345,"y":2},{"x":4365,"y":9.2},{"x":4375,"y":2},{"x":4390,"y":0},{"x":4405,"y":3},{"x":4420,"y":1},{"x":4440,"y":4},{"x":4455,"y":2},{"x":4470,"y":8.2},{"x":4480,"y":7},{"x":4495,"y":4},{"x":4510,"y":1},{"x":4525,"y":3.8},{"x":4540,"y":0},{"x":4555,"y":2},{"x":4570,"y":0},{"x":4590,"y":3},{"x":4610,"y":1},{"x":4625,"y":2},{"x":4640,"y":0},{"x":4655,"y":3},{"x":4670,"y":1},{"x":4690,"y":3.8},{"x":4705,"y":0},{"x":4720,"y":4},{"x":4740,"y":2},{"x":4760,"y":9.8},{"x":4776,"y":12.4},{"x":4790,"y":11.5},{"x":4805,"y":9.8},{"x":4815,"y":3},{"x":4830,"y":10.3},{"x":4845,"y":5},{"x":4860,"y":2},{"x":4875,"y":5},{"x":4890,"y":0},{"x":4905,"y":4},{"x":4920,"y":1},{"x":4940,"y":9.4},{"x":4955,"y":2},{"x":4970,"y":5.7},{"x":4985,"y":0},{"x":5000,"y":3},{"x":5015,"y":5},{"x":5030,"y":1},{"x":5045,"y":5.2},{"x":5060,"y":0},{"x":5075,"y":3},{"x":5090,"y":5.2},{"x":5105,"y":1},{"x":5120,"y":4},{"x":5140,"y":0},{"x":5160,"y":2},{"x":5180,"y":5},{"x":5200,"y":5},{"x":5220,"y":5.5},{"x":5240,"y":6},{"x":5264,"y":7}
]
},
"concat":[
  {"width":513,"height":230,
   "title":{"text":"Predicción de los datos de entrenamiento hecha con 3 componentes"},
   "layer":[
    {"data":{"name":"scA"},"mark":{"type":"point","filled":true,"size":10,"color":"#0000ff","opacity":1,"clip":true},
     "encoding":{"x":{"field":"x","type":"quantitative","scale":{"domain":[-8.6,27.7],"nice":false,"zero":false},"axis":{"title":"Respuesta esperada [grados]","values":[-5,0,5,10,15,20,25]}},
                 "y":{"field":"y","type":"quantitative","scale":{"domain":[-8.6,27.7],"nice":false,"zero":false},"axis":{"title":"Predicción [grados]","values":[-5,0,5,10,15,20,25]}}}},
    {"data":{"name":"bandA"},"mark":{"type":"line","color":"#ff2020","strokeWidth":2,"strokeDash":[10,6],"clip":true},
     "encoding":{"x":{"field":"x","type":"quantitative"},"y":{"field":"y","type":"quantitative"},"detail":{"field":"s"}}},
    {"data":{"name":"fitA"},"mark":{"type":"line","color":"#22ee22","strokeWidth":2,"clip":true},
     "encoding":{"x":{"field":"x","type":"quantitative"},"y":{"field":"y","type":"quantitative"}}},
    {"data":{"values":[{}]},"mark":{"type":"text","font":"Liberation Serif","fontSize":31,"color":"#000000","align":"center","baseline":"middle","clip":false},
     "encoding":{"x":{"datum":29.67,"type":"quantitative"},"y":{"datum":25.96,"type":"quantitative"},"text":{"value":"a)"}}}
   ]},
  {"width":514,"height":230,
   "title":{"text":"Predicción de los datos de prueba hecha con 3 componente"},
   "layer":[
    {"data":{"name":"scB"},"mark":{"type":"point","filled":true,"size":10,"color":"#0000ff","opacity":1,"clip":true},
     "encoding":{"x":{"field":"x","type":"quantitative","scale":{"domain":[-10,25.55],"nice":false,"zero":false},"axis":{"title":"Respuesta esperada [grados]","values":[-10,-5,0,5,10,15,20,25]}},
                 "y":{"field":"y","type":"quantitative","scale":{"domain":[-10,25.66],"nice":false,"zero":false},"axis":{"title":"Predicción [grados]","values":[-10,-5,0,5,10,15,20,25]}}}},
    {"data":{"name":"bandB"},"mark":{"type":"line","color":"#ff2020","strokeWidth":2,"strokeDash":[10,6],"clip":true},
     "encoding":{"x":{"field":"x","type":"quantitative"},"y":{"field":"y","type":"quantitative"},"detail":{"field":"s"}}},
    {"data":{"name":"fitB"},"mark":{"type":"line","color":"#22ee22","strokeWidth":2,"clip":true},
     "encoding":{"x":{"field":"x","type":"quantitative"},"y":{"field":"y","type":"quantitative"}}},
    {"data":{"values":[{}]},"mark":{"type":"text","font":"Liberation Serif","fontSize":31,"color":"#000000","align":"center","baseline":"middle","clip":false},
     "encoding":{"x":{"datum":27.39,"type":"quantitative"},"y":{"datum":23.5,"type":"quantitative"},"text":{"value":"b)"}}}
   ]},
  {"width":513,"height":230,
   "view":{"stroke":"#8a8a8a"},
   "layer":[
    {"data":{"name":"erA"},"mark":{"type":"line","strokeWidth":1.1,"clip":true},
     "encoding":{"x":{"field":"x","type":"quantitative","scale":{"domain":[0,5390],"nice":false,"zero":false},"axis":{"title":"Medición","values":[0,500,1000,1500,2000,2500,3000,3500,4000,4500,5000],"format":"d","titlePadding":2}},
                 "y":{"field":"y","type":"quantitative","scale":{"domain":[0,22.6],"nice":false},"axis":{"title":"Error absoluto [grados]","values":[0,5,10,15,20]}},
                 "color":{"datum":"Error absoluto","type":"nominal","scale":{"domain":["Error absoluto","EAP = 3.2286"],"range":["#0000ff","#ff0000"]},"legend":{"title":null}}}},
    {"mark":{"type":"rule","strokeWidth":2},
     "encoding":{"y":{"datum":3.2286,"type":"quantitative"},"color":{"datum":"EAP = 3.2286","type":"nominal"}}}
   ]},
  {"width":514,"height":230,
   "view":{"stroke":"#8a8a8a"},
   "layer":[
    {"data":{"name":"erB"},"mark":{"type":"line","strokeWidth":1.1,"clip":true},
     "encoding":{"x":{"field":"x","type":"quantitative","scale":{"domain":[0,5290],"nice":false,"zero":false},"axis":{"title":"Medición","values":[0,500,1000,1500,2000,2500,3000,3500,4000,4500,5000],"format":"d","titlePadding":2}},
                 "y":{"field":"y","type":"quantitative","scale":{"domain":[0,22.45],"nice":false},"axis":{"title":"Error absoluto [grados]","values":[0,5,10,15,20]}},
                 "color":{"datum":"Error absoluto","type":"nominal","scale":{"domain":["Error absoluto","EAP = 3.2077"],"range":["#0000ff","#ff0000"]},"legend":{"title":null}}}},
    {"mark":{"type":"rule","strokeWidth":2},
     "encoding":{"y":{"datum":3.2077,"type":"quantitative"},"color":{"datum":"EAP = 3.2077","type":"nominal"}}}
   ]}
],
"columns":2,
"spacing":{"row":91,"column":96},
"bounds":"flush",
"resolve":{"scale":{"color":"independent"},"legend":{"color":"independent"}}
}
